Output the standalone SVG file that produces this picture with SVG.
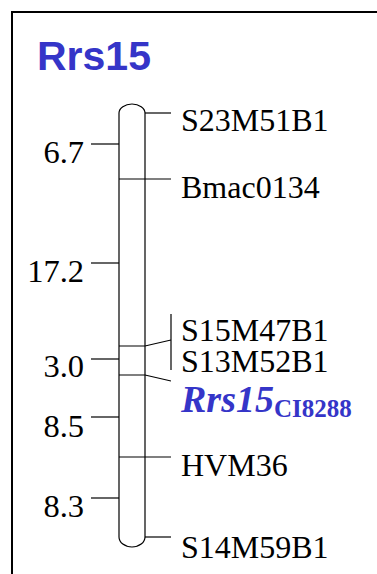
<svg xmlns="http://www.w3.org/2000/svg" width="377" height="574" viewBox="0 0 377 574">
  <style>
    .frame { fill: none; stroke: #000; stroke-width: 2; }
    .chrom { fill: #fff; stroke: #000; stroke-width: 1.2; }
    .tick { stroke: #000; stroke-width: 1.2; fill: none; }
    .num { font-family: "Liberation Serif", "Times New Roman", serif; font-size: 32.5px; fill: #000; text-anchor: end; }
    .lbl { font-family: "Liberation Serif", "Times New Roman", serif; font-size: 32px; fill: #000; }
    .title { font-family: "Liberation Sans", Arial, sans-serif; font-weight: bold; font-size: 41px; fill: #3535C8; }
    .gene { font-family: "Liberation Serif", "Times New Roman", serif; font-weight: bold; fill: #3535C8; }
  </style>
  <rect width="377" height="574" fill="#fff"/>
  <path class="frame" d="M380,12 H12 V580"/>
  <text class="title" x="37" y="70">Rrs15</text>

  <!-- chromosome bar -->
  <g id="chromosome">
    <path class="chrom" d="M119,537 V113 A13,9 0 0 1 145,113 V537 A13,10 0 0 1 119,537 Z"/>
  </g>

  <!-- connectors: marker lines and interval ticks -->
  <g id="connectors">
    <path class="tick" d="M145,113 H171"/>
    <path class="tick" d="M119,179 H171"/>
    <path class="tick" d="M119,346 H145 L171,340"/>
    <path class="tick" d="M171,314 V370"/>
    <path class="tick" d="M119,375 H145 L171,381"/>
    <path class="tick" d="M119,457 H171"/>
    <path class="tick" d="M145,537 H171"/>
    <path class="tick" d="M91,144 H119"/>
    <path class="tick" d="M91,263 H119"/>
    <path class="tick" d="M91,359 H119"/>
    <path class="tick" d="M91,417 H119"/>
    <path class="tick" d="M91,498 H119"/>
  </g>

  <!-- interval distances -->
  <g id="distances">
    <text class="num" x="84" y="163">6.7</text>
    <text class="num" x="84" y="282">17.2</text>
    <text class="num" x="84" y="377">3.0</text>
    <text class="num" x="84" y="437">8.5</text>
    <text class="num" x="84" y="517">8.3</text>
  </g>

  <!-- marker names -->
  <g id="m-S23M51B1"><text class="lbl" x="181" y="131">S23M51B1</text></g>
  <g id="m-Bmac0134"><text class="lbl" x="181" y="198">Bmac0134</text></g>
  <g id="m-S15M47B1"><text class="lbl" x="181" y="341">S15M47B1</text></g>
  <g id="m-S13M52B1"><text class="lbl" x="181" y="372">S13M52B1</text></g>
  <g id="m-Rrs15">
    <text class="gene" x="181" y="412"><tspan font-style="italic" font-size="38px">Rrs15</tspan><tspan font-size="25px" dy="5">CI8288</tspan></text>
  </g>
  <g id="m-HVM36"><text class="lbl" x="181" y="476">HVM36</text></g>
  <g id="m-S14M59B1"><text class="lbl" x="181" y="558">S14M59B1</text></g>
</svg>
